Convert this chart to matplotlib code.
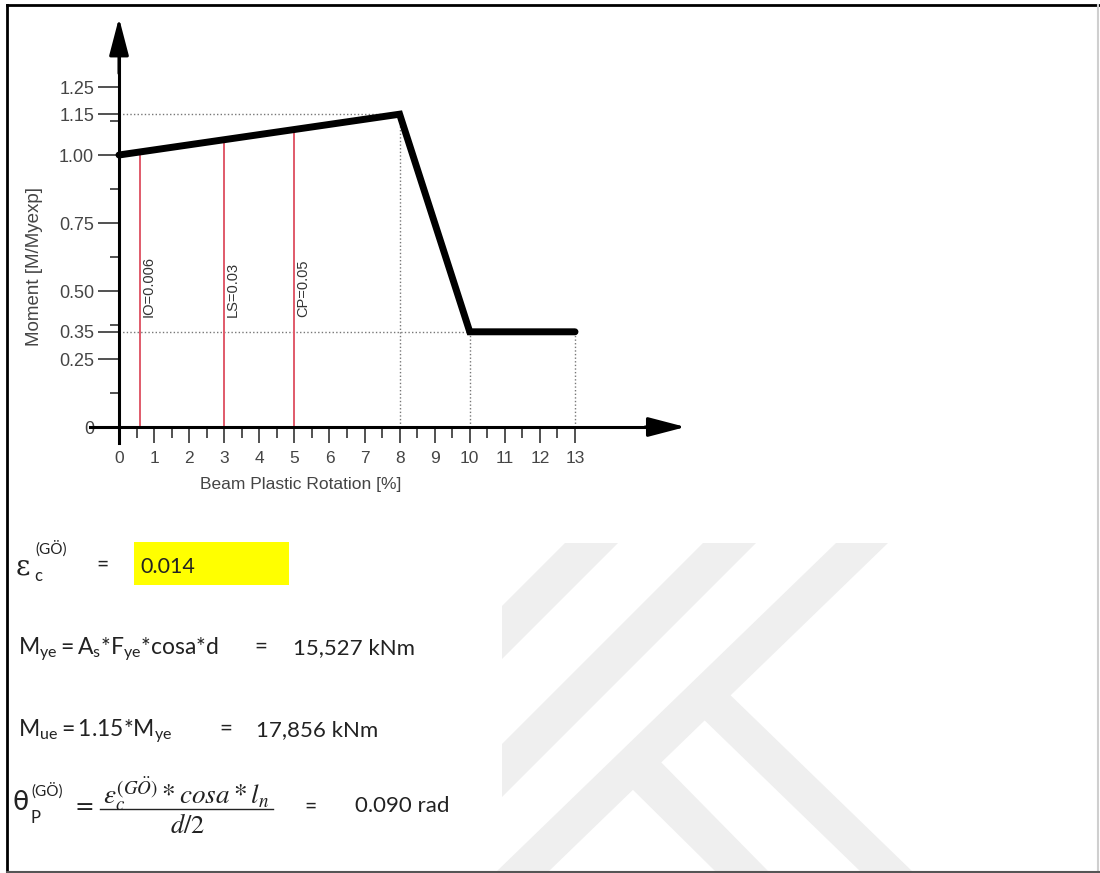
import numpy as np
import matplotlib
matplotlib.use("Agg")
import matplotlib.pyplot as plt
import matplotlib.transforms as mtransforms
from matplotlib.patches import Polygon, Rectangle
from matplotlib.lines import Line2D

# ---- backbone curve: plastic rotation [%] vs normalised moment ----
rotation = [0, 8, 10, 13]
moment = [1.00, 1.15, 0.35, 0.35]

# ---- acceptance criteria (plastic rotation, rad) ----
limit_names = ["IO", "LS", "CP"]
limit_rot = [0.006, 0.03, 0.05]

# ---- axis ticks ----
xticks_major = list(range(0, 14))
xticks_minor = [i + 0.5 for i in range(13)]
yticks_major = [0, 0.25, 0.35, 0.50, 0.75, 1.00, 1.15, 1.25]
ytick_labels = ["0", "0.25", "0.35", "0.50", "0.75", "1.00", "1.15", "1.25"]
yticks_minor = [0.125, 0.375, 0.625, 0.875, 1.125]
yticks_marked = [0.35, 1.00, 1.15]

# ---- calculation results ----
eps_c = "0.014"
M_ye = "15,527 kNm"
M_ue = "17,856 kNm"
theta_p = "0.090 rad"

plt.rcParams["font.family"] = ["Liberation Sans", "DejaVu Sans"]
plt.rcParams["mathtext.fontset"] = "custom"
plt.rcParams["mathtext.rm"] = "Lato"
plt.rcParams["mathtext.it"] = "Lato:italic"
plt.rcParams["mathtext.bf"] = "Lato:bold"
plt.rcParams["mathtext.sf"] = "Lato"

W, H = 1100, 873
fig = plt.figure(figsize=(W / 100, H / 100), dpi=100)
fig.patch.set_facecolor("white")


def fx(px):
    return px / W


def fy(py):
    return 1 - py / H


# ---- faint background mark ----
wm_color = "#efefef"
wm_shapes = [
    [(565, 543), (618, 543), (502, 659), (502, 606)],
    [(703, 543), (756, 543), (502, 797), (502, 744)],
    [(836, 543), (888, 543), (547, 873), (495, 873)],
    [(722, 687), (914, 873), (862, 873), (696, 712)],
    [(652, 753), (770, 873), (717, 873), (623, 780)],
]
for shp in wm_shapes:
    fig.add_artist(Polygon([(fx(a), fy(b)) for a, b in shp], closed=True,
                           facecolor=wm_color, edgecolor="none",
                           transform=fig.transFigure, zorder=0))

# ---- chart axes: data origin at (119, 427) px ----
sx = (575 - 119) / 13.0
sy = (427 - 155) / 1.0
xlim = (-1.2, 16.6)
ylim = (-0.22, 1.56)
left_px = 119 + xlim[0] * sx
right_px = 119 + xlim[1] * sx
top_px = 427 - ylim[1] * sy
bottom_px = 427 - ylim[0] * sy
ax = fig.add_axes([left_px / W, 1 - bottom_px / H,
                   (right_px - left_px) / W, (bottom_px - top_px) / H])
ax.set_xlim(xlim)
ax.set_ylim(ylim)
ax.patch.set_alpha(0)

for s in ("top", "right"):
    ax.spines[s].set_visible(False)
ax.spines["left"].set_position(("data", 0))
ax.spines["bottom"].set_position(("data", 0))
ax.spines["left"].set_bounds(-0.06, 1.40)
ax.spines["bottom"].set_bounds(-0.83, 15.3)
for s in ("left", "bottom"):
    ax.spines[s].set_linewidth(2.2)
    ax.spines[s].set_color("black")
    ax.spines[s].set_zorder(5)

arrow_style = "-|>,head_length=2.3,head_width=0.6"
ax.annotate("", xy=(0, 1.504), xytext=(0, 1.30),
            arrowprops=dict(arrowstyle=arrow_style, color="black", lw=2.2,
                            shrinkA=0, shrinkB=0, mutation_scale=10))
ax.annotate("", xy=(16.15, 0), xytext=(15.0, 0),
            arrowprops=dict(arrowstyle=arrow_style, color="black", lw=2.2,
                            shrinkA=0, shrinkB=0, mutation_scale=10))

tick_color = "#222222"
label_color = "#454545"
ax.set_yticks(yticks_major)
ax.set_yticklabels(ytick_labels)
ax.set_yticks(yticks_minor, minor=True)
ax.set_xticks(xticks_major)
ax.set_xticklabels([str(v) for v in xticks_major])
ax.set_xticks(xticks_minor, minor=True)
ax.tick_params(axis="y", which="major", direction="out", length=15, width=1.1,
               color=tick_color, pad=3, labelsize=13, labelcolor=label_color)
ax.tick_params(axis="y", which="minor", direction="out", length=6.5, width=1.1,
               color=tick_color)
ax.tick_params(axis="x", which="major", direction="out", length=11.5, width=1.1,
               color=tick_color, pad=6, labelsize=12.5, labelcolor=label_color)
ax.tick_params(axis="x", which="minor", direction="out", length=8, width=1.1,
               color=tick_color)
for tick, v in zip(ax.yaxis.get_major_ticks(), yticks_major):
    if v in yticks_marked:
        tick.tick1line.set_color("#6b6bb8")
    if v == 0:
        tick.tick1line.set_visible(False)
ax.xaxis.get_major_ticks()[0].tick1line.set_visible(False)

# ---- dotted guide lines to the curve's key points ----
guide = dict(color="#777777", lw=1.0, ls=(0, (1, 1.6)), zorder=2)
ax.plot([0, rotation[1]], [moment[1], moment[1]], **guide)
ax.plot([rotation[1], rotation[1]], [0, moment[1]], **guide)
ax.plot([0, rotation[2]], [moment[2], moment[2]], **guide)
ax.plot([rotation[2], rotation[2]], [0, moment[2]], **guide)
ax.plot([rotation[3], rotation[3]], [0, moment[3]], **guide)

# ---- acceptance criteria lines ----
txt_offset = mtransforms.offset_copy(ax.transData, fig=fig, x=2, y=0, units="dots")
for name, r in zip(limit_names, limit_rot):
    xr = 100 * r
    ytop = np.interp(xr, rotation, moment)
    ax.plot([xr, xr], [0, ytop], color="#e05a6a", lw=1.4, zorder=3)
    ax.text(xr, 0.405, f"{name}={r:g}", rotation=90, rotation_mode="anchor",
            ha="left", va="top", fontsize=10.5, color="#333333",
            transform=txt_offset, zorder=3)

# ---- backbone curve ----
ax.plot(rotation, moment, color="black", lw=5.0, solid_capstyle="round",
        solid_joinstyle="miter", zorder=4)

fig.text(fx(301), fy(484), "Beam Plastic Rotation [%]", ha="center", va="center",
         fontsize=12.5, color=label_color)
fig.text(fx(35), fy(267), "Moment [M/Myexp]", rotation=90, ha="center",
         va="center", fontsize=13.5, color=label_color)

# ---- calculation block ----
tc = "#222222"
body = ["Lato", "DejaVu Sans"]

# eps_c line
fig.text(fx(16), fy(567), "ε", family="DejaVu Serif", fontsize=20, color=tc,
         va="center", ha="left")
fig.text(fx(35), fy(549), "(GÖ)", family=body, fontsize=11, color=tc, va="center", ha="left")
fig.text(fx(34), fy(576), "c", family=body, fontsize=12, color=tc, va="center", ha="left")
fig.text(fx(102), fy(565), "=", family=body, fontsize=15, color=tc, va="center", ha="center")
fig.add_artist(Rectangle((fx(134), fy(585)), fx(289) - fx(134), fy(542) - fy(585),
                         facecolor="#ffff00", edgecolor="none",
                         transform=fig.transFigure, zorder=1))
fig.text(fx(140), fy(567), eps_c, family=body, fontsize=15.5, color=tc,
         va="center", ha="left", zorder=2)

# M_ye line
fig.text(fx(18), fy(654), r"$\mathrm{M_{ye} = A_s{*}F_{ye}{*}cosa{*}d}$", fontsize=16.5,
         color=tc, va="baseline", ha="left")
fig.text(fx(261), fy(647), "=", family=body, fontsize=16, color=tc, va="center", ha="center")
fig.text(fx(293), fy(654), M_ye, family=body, fontsize=16, color=tc,
         va="baseline", ha="left")

# M_ue line
fig.text(fx(18), fy(736), r"$\mathrm{M_{ue} = 1.15{*}M_{ye}}$", fontsize=16.5,
         color=tc, va="baseline", ha="left")
fig.text(fx(226), fy(729), "=", family=body, fontsize=16, color=tc, va="center", ha="center")
fig.text(fx(256), fy(736), M_ue, family=body, fontsize=16, color=tc,
         va="baseline", ha="left")

# theta_p line
fig.text(fx(13), fy(803), "θ", family="DejaVu Sans", fontsize=19, color=tc,
         va="center", ha="left")
fig.text(fx(31), fy(791), "(GÖ)", family=body, fontsize=11, color=tc, va="center", ha="left")
fig.text(fx(31), fy(818), "P", family=body, fontsize=12, color=tc, va="center", ha="left")
fig.text(fx(84), fy(807), "=", fontsize=17, color=tc, va="center", ha="center",
         family="DejaVu Serif")
fig.text(fx(186), fy(804), r"$\varepsilon_c^{(GÖ)} * cosa * l_n$", fontsize=19.5,
         color=tc, va="baseline", ha="center", math_fontfamily="stix")
fig.add_artist(Line2D([fx(100), fx(273)], [fy(809), fy(809)], color=tc, lw=1.0,
                      transform=fig.transFigure))
fig.text(fx(187), fy(833), r"$d/2$", fontsize=19, color=tc, va="baseline",
         ha="center", math_fontfamily="stix")
fig.text(fx(310), fy(807), "=", family=body, fontsize=15, color=tc, va="center", ha="center")
fig.text(fx(355), fy(812), theta_p, family=body, fontsize=16, color=tc,
         va="baseline", ha="left")

# ---- page frame ----
fig.add_artist(Line2D([fx(7), fx(1099)], [fy(5), fy(5)], color="black", lw=2.0,
                      transform=fig.transFigure))
fig.add_artist(Line2D([fx(7), fx(7)], [fy(5), fy(872)], color="black", lw=2.0,
                      transform=fig.transFigure))
fig.add_artist(Line2D([fx(1098), fx(1098)], [fy(5), fy(872)], color="#cfcfcf", lw=1.5,
                      transform=fig.transFigure))
fig.add_artist(Line2D([fx(7), fx(1099)], [fy(872), fy(872)], color="#555555", lw=1.5,
                      transform=fig.transFigure))

fig.savefig("out.png", dpi=100, facecolor="white")
